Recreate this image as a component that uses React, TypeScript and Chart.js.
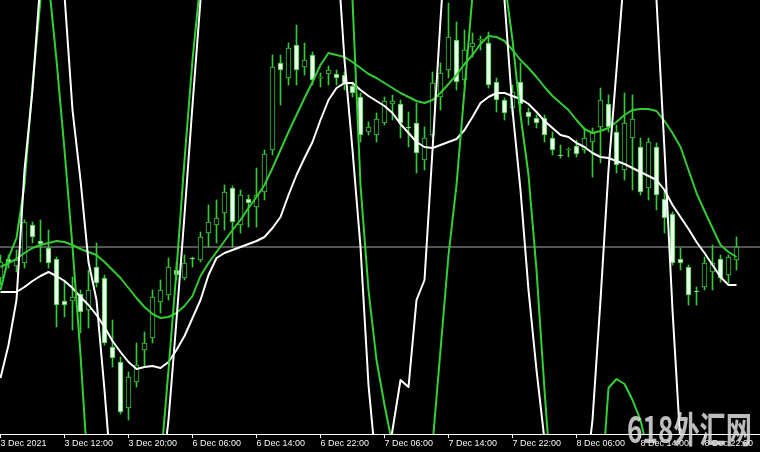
import React, { useEffect, useRef } from 'react';
import { Chart, registerables } from 'chart.js';

Chart.register(...registerables);

// H1 bars, one label every 8 bars
const tickLabels = [
  '3 Dec 2021', '3 Dec 12:00', '3 Dec 20:00', '6 Dec 06:00', '6 Dec 14:00', '6 Dec 22:00',
  '7 Dec 06:00', '7 Dec 14:00', '7 Dec 22:00', '8 Dec 06:00', '8 Dec 14:00', '8 Dec 22:00',
];
const barsPerLabel = 8;

const opens = [
  156, 175, 168, 171, 209, 193, 186, 175, 133, 133,
  140, 124, 167, 156, 87, 72, 26, 52, 84, 96,
  132, 139, 164, 156, 176, 174, 201, 209, 221, 246,
  209, 235, 227, 242, 284, 371, 356, 389, 367, 379,
  356, 360, 360, 359, 348, 337, 302, 299, 311, 330,
  330, 307, 311, 274, 299, 337, 364, 394, 354, 387,
  394, 391, 352, 334, 326, 352, 322, 316, 316, 296,
  279, 284, 288, 284, 292, 307, 330, 302, 264, 296,
  287, 246, 287, 235, 220, 175, 167, 143, 147, 162,
  175, 159, 174,
];
const highs = [
  179, 179, 184, 214, 212, 214, 204, 177, 154, 157,
  144, 164, 191, 159, 114, 77, 62, 91, 102, 144,
  154, 176, 172, 179, 177, 202, 229, 234, 249, 248,
  244, 239, 266, 284, 379, 379, 391, 409, 391, 382,
  361, 368, 364, 362, 352, 341, 312, 321, 337, 339,
  334, 322, 331, 307, 362, 371, 431, 412, 404, 401,
  398, 402, 356, 336, 349, 371, 326, 319, 319, 302,
  289, 286, 294, 306, 306, 346, 339, 309, 341, 339,
  296, 296, 291, 244, 222, 186, 169, 147, 177, 189,
  179, 179, 197,
];
const lows = [
  149, 166, 162, 166, 191, 172, 166, 107, 117, 104,
  101, 106, 147, 89, 67, 20, 14, 47, 67, 91,
  121, 134, 154, 154, 167, 172, 187, 191, 204, 187,
  201, 207, 207, 234, 279, 329, 349, 349, 359, 349,
  347, 349, 349, 344, 337, 292, 299, 292, 309, 314,
  296, 287, 261, 264, 297, 324, 356, 344, 349, 377,
  384, 346, 322, 314, 319, 324, 309, 306, 292, 279,
  276, 277, 277, 281, 257, 271, 302, 261, 254, 244,
  239, 234, 224, 201, 169, 164, 129, 129, 144, 144,
  152, 151, 164,
];
const closes = [
  172, 171, 174, 212, 197, 190, 171, 129, 129, 137,
  122, 144, 151, 91, 76, 22, 57, 69, 91, 137,
  144, 167, 159, 171, 175, 197, 212, 216, 242, 212,
  239, 231, 239, 280, 367, 364, 386, 364, 374, 354,
  357, 364, 356, 351, 341, 299, 307, 315, 333, 333,
  311, 306, 281, 296, 351, 361, 397, 352, 384, 391,
  395, 349, 334, 321, 342, 330, 317, 311, 299, 284,
  278, 285, 280, 296, 301, 334, 307, 269, 311, 315,
  242, 292, 239, 216, 171, 171, 139, 142, 171, 171,
  156, 177, 187,
];

// moving averages
const maGreen = [
  167, 171, 175, 181, 186, 189, 191, 193, 192, 189,
  185, 182, 179, 172, 164, 156, 146, 136, 127, 120,
  116, 117, 121, 128, 138, 158, 171, 182, 193, 204,
  214, 226, 237, 249, 266, 284, 302, 319, 336, 352,
  369, 381, 379, 377, 372, 366, 360, 356, 351, 346,
  341, 337, 333, 331, 334, 341, 350, 359, 370, 379,
  390, 398, 397, 393, 384, 374, 366, 357, 347, 338,
  331, 324, 314, 305, 301, 303, 306, 312, 319, 324,
  325, 325, 323, 313, 301, 287, 264, 241, 223, 206,
  189, 182, 177,
];
const maWhite = [
  142, 142, 142, 147, 153, 158, 162, 158, 153, 146,
  137, 129, 119, 107, 93, 82, 72, 65, 67, 68,
  66, 72, 84, 98, 116, 134, 159, 176, 181, 184,
  187, 190, 193, 197, 206, 217, 239, 259, 276, 292,
  314, 334, 346, 351, 351, 344, 338, 333, 328, 321,
  310, 301, 292, 287, 286, 289, 292, 295, 304, 317,
  331, 337, 341, 341, 338, 335, 330, 322, 313, 306,
  299, 297, 291, 287, 281, 277, 276, 273, 270, 266,
  262, 258, 254, 244, 229, 217, 205, 192, 181, 169,
  157, 149, 149,
];

// oscillator lines drawn on the price scale (they swing past the window)
const oscGreen = [
  144, 176, 196, 249, 349, 434, 454, 374, 284, 187,
  79, -46, -136, -196, -226, -236, -226, -196, -156, -96,
  -31, 64, 164, 274, 374, 454, 554, 634, 672, 690,
  700, 706, 708, 706, 702, 698, 696, 694, 692, 690,
  686, 680, 664, 604, 434, 249, 144, 74, 29, -11,
  -46, -66, -66, -46, -11, 84, 179, 249, 344, 439,
  494, 514, 504, 454, 394, 319, 259, 164, 44, -66,
  -136, -176, -186, -166, -126, -66, 46, 55, 50, 34,
  14, -21, -66, -126, -166, -186, -196, -204, -208, -210,
  -210, -208, -205,
];
const oscWhite = [
  56, 89, 134, 264, 344, 454, 514, 494, 439, 324,
  254, 172, 134, 44, -56, -106, -136, -141, -126, -96,
  -56, 14, 114, 219, 329, 434, 544, 624, 674, 690,
  696, 700, 700, 698, 696, 694, 694, 692, 690, 684,
  664, 594, 494, 374, 284, 187, 49, -36, -56, 4,
  54, 47, 134, 154, 284, 414, 534, 614, 644, 654,
  644, 614, 544, 434, 324, 244, 144, 64, -6, -66,
  -106, -126, -106, -56, 14, 134, 264, 364, 464, 514,
  524, 494, 434, 284, 124, -11, -116, -186, -216, -226,
  -231, -231, -226,
];

const watermark = '618外汇网';

const CANDLE = '#37c837';
const BEAR_FILL = '#eaffea';
const BULL_FILL = '#000000';

export default function App() {
  const ref = useRef<HTMLCanvasElement>(null);

  useEffect(() => {
    const canvas = ref.current;
    if (!canvas) return;
    const labels = opens.map((_, i) => i);
    const bodies = opens.map((o, i) => [o, closes[i]]);
    const wicks = lows.map((l, i) => [l, highs[i]]);
    const bodyFill = opens.map((o, i) => (closes[i] >= o ? BULL_FILL : BEAR_FILL));
    const bid = closes[closes.length - 1];
    const xMin = -0.0625;
    const xMax = xMin + 95;

    const watermarkPlugin = {
      id: 'watermark',
      afterDraw(chart: any) {
        const ctx = chart.ctx;
        ctx.save();
        ctx.font = 'bold 36px "Noto Sans CJK SC", sans-serif';
        const w = ctx.measureText(watermark).width;
        ctx.translate(627, 443);
        ctx.scale(125 / w, 1);
        ctx.fillStyle = 'rgba(222,222,222,0.85)';
        ctx.textBaseline = 'alphabetic';
        ctx.fillText(watermark, 0, 0);
        ctx.restore();
      },
    };

    const chart = new Chart(canvas, {
      type: 'bar',
      data: {
        labels,
        datasets: [
          {
            type: 'line', label: 'osc white', data: oscWhite, borderColor: '#ffffff', borderWidth: 2,
            pointRadius: 0, tension: 0, clip: 0, order: 1, borderJoinStyle: 'round',
          } as any,
          {
            type: 'line', label: 'osc green', data: oscGreen, borderColor: '#33d133', borderWidth: 2,
            pointRadius: 0, tension: 0, clip: 0, order: 2, borderJoinStyle: 'round',
          } as any,
          {
            type: 'line', label: 'MA white', data: maWhite, borderColor: '#ffffff', borderWidth: 2,
            pointRadius: 0, tension: 0, clip: 0, order: 3, borderJoinStyle: 'round',
          } as any,
          {
            type: 'line', label: 'MA green', data: maGreen, borderColor: '#33cc33', borderWidth: 2,
            pointRadius: 0, tension: 0, clip: 0, order: 4, borderJoinStyle: 'round',
          } as any,
          {
            type: 'bar', label: 'body', data: bodies, backgroundColor: bodyFill, borderColor: CANDLE,
            borderWidth: 1, borderSkipped: false, barThickness: 5, grouped: false, order: 5,
          } as any,
          {
            type: 'bar', label: 'wick', data: wicks, backgroundColor: CANDLE, borderWidth: 0,
            barThickness: 1, grouped: false, order: 6,
          } as any,
          {
            type: 'line', label: 'bid', data: [{ x: xMin - 1, y: bid }, { x: xMax + 1, y: bid }],
            borderColor: '#a8a8a8', borderWidth: 1, pointRadius: 0, clip: 0, order: 7,
          } as any,
        ],
      },
      options: {
        animation: false,
        responsive: true,
        maintainAspectRatio: false,
        events: [],
        layout: { padding: 0 },
        plugins: { legend: { display: false }, tooltip: { enabled: false } },
        scales: {
          x: {
            type: 'linear',
            min: xMin,
            max: xMax,
            offset: false,
            afterBuildTicks: (axis: any) => {
              axis.ticks = tickLabels.map((_, k) => ({ value: k * barsPerLabel }));
            },
            afterFit: (axis: any) => {
              axis.height = 18;
            },
            grid: {
              display: true, drawOnChartArea: false, drawTicks: true, tickLength: 4,
              color: '#ffffff', offset: false,
            },
            border: { display: true, color: '#ffffff', width: 1 },
            ticks: {
              autoSkip: false, maxRotation: 0, minRotation: 0, align: 'start', padding: 0,
              color: '#f4f4f4',
              font: { family: '"Liberation Sans", Arial, sans-serif', size: 9 },
              callback: (v: any) => tickLabels[Math.round(Number(v) / barsPerLabel)] ?? '',
            },
          },
          y: { type: 'linear', min: 0, max: 434, display: false },
        },
      } as any,
      plugins: [watermarkPlugin],
    });
    return () => chart.destroy();
  }, []);

  return (
    <div style={{ position: 'fixed', left: 0, top: 0, width: 760, height: 452, background: '#000' }}>
      <canvas ref={ref} />
    </div>
  );
}
